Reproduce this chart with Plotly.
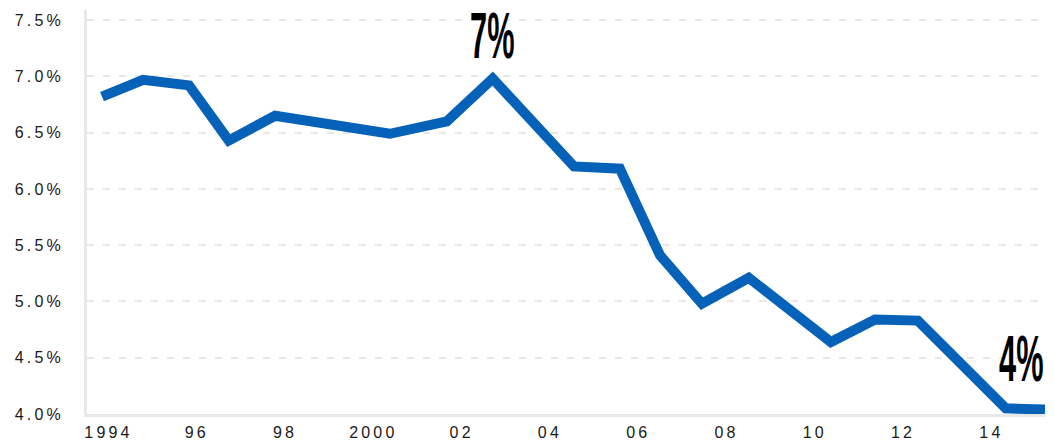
import plotly.graph_objects as go

# Data (fractional year, percent)
years = [1993.89, 1994.82, 1995.86, 1996.76, 1997.81, 2000.41, 2001.70, 2002.74,
         2004.58, 2005.62, 2006.53, 2007.48, 2008.54, 2010.40, 2011.40, 2012.37,
         2014.36, 2015.25]
rates = [6.82, 6.97, 6.92, 6.43, 6.65, 6.49, 6.60, 6.98,
         6.20, 6.18, 5.41, 4.98, 5.21, 4.64, 4.84, 4.83,
         4.05, 4.04]

x_tick_vals = [1994, 1996, 1998, 2000, 2002, 2004, 2006, 2008, 2010, 2012, 2014]
x_tick_text = ["1994", "96", "98", "2000", "02", "04", "06", "08", "10", "12", "14"]
y_tick_vals = [4.0, 4.5, 5.0, 5.5, 6.0, 6.5, 7.0, 7.5]
y_tick_text = ["4.0%", "4.5%", "5.0%", "5.5%", "6.0%", "6.5%", "7.0%", "7.5%"]

callouts = [("7%", 2002.74, 7.02), ("4%", 2014.72, 4.15)]

THIN = "\u2009"


def spaced(s):
    return THIN.join(list(s))


fig = go.Figure()
fig.add_trace(go.Scatter(
    x=years, y=rates, mode="lines",
    line=dict(color="#0562b8", width=10),
    hoverinfo="skip", showlegend=False,
))

for txt, xv, yv in callouts:
    fig.add_annotation(
        x=xv, y=yv, text="<b>" + txt + "</b>", showarrow=False,
        xanchor="center", yanchor="bottom",
        font=dict(family="Liberation Sans, Arial, sans-serif", size=64, color="#000000"),
    )

fig.update_layout(
    width=1054, height=443,
    margin=dict(l=87, r=9, t=10, b=29),
    paper_bgcolor="white", plot_bgcolor="white",
    font=dict(family="Liberation Sans, Arial, sans-serif", size=16, color="#1a1a1a"),
    xaxis=dict(
        range=[1993.55, 2015.25], automargin=False,
        tickvals=x_tick_vals, ticktext=[spaced(t) for t in x_tick_text],
        showgrid=False, zeroline=False,
        showline=True, linecolor="#e8e8e8", linewidth=3,
        ticks="", ticklabelstandoff=2,
    ),
    yaxis=dict(
        range=[4.0, 7.59], automargin=False,
        tickvals=y_tick_vals, ticktext=[spaced(t) for t in y_tick_text],
        showgrid=True, gridcolor="#e8e8e8", gridwidth=2, griddash="7px,9px",
        zeroline=False,
        showline=True, linecolor="#e8e8e8", linewidth=3,
        ticks="", ticklabelstandoff=20,
    ),
)

# no page margin; condense the big callout numbers (narrow display-style type)
post = (
    "document.body.style.margin='0';"
    "var s=document.createElement('style');"
    "s.innerHTML='body{margin:0;} .annotation-text{transform-box:fill-box;transform-origin:center;"
    "transform:scaleX(0.48);}';"
    "document.head.appendChild(s);"
)

fig.write_html("out.html", post_script=post, config={"displayModeBar": False})
